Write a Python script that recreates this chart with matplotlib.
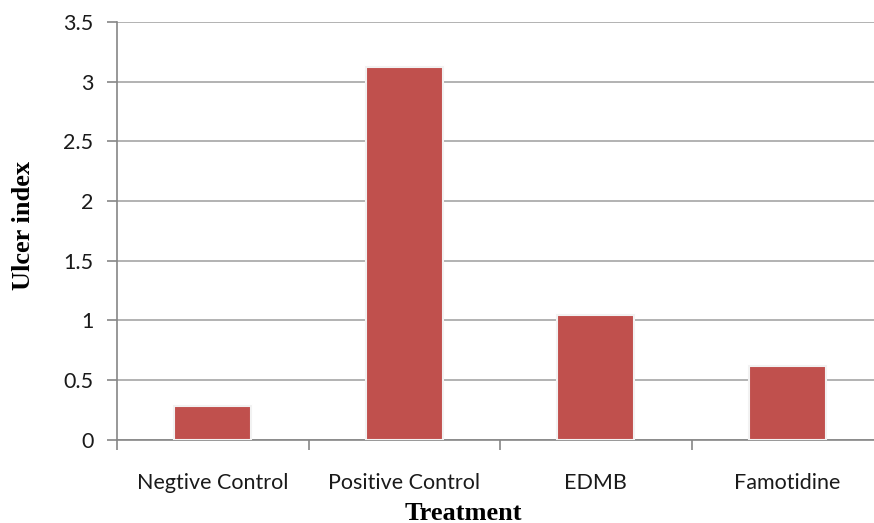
import matplotlib.pyplot as plt
import numpy as np

treatments = ["Negtive Control", "Positive Control", "EDMB", "Famotidine"]
ulcer_index = [0.28, 3.12, 1.04, 0.62]
y_ticks = [0, 0.5, 1, 1.5, 2, 2.5, 3, 3.5]
y_tick_labels = ["0", "0.5", "1", "1.5", "2", "2.5", "3", "3.5"]

fig = plt.figure(figsize=(8.74, 5.23), dpi=100)
ax = fig.add_axes([117 / 874, 1 - 439.5 / 523, 766 / 874, 417.5 / 523])

x = np.arange(len(treatments))
ax.bar(x, ulcer_index, width=0.4, color="#C0504D", edgecolor="#F2F2F2",
       linewidth=1.5, zorder=3)

ax.set_xlim(-0.5, len(treatments) - 0.5)
ax.set_ylim(0, 3.5)
ax.set_yticks(y_ticks)
ax.set_yticklabels(y_tick_labels, fontsize=15.5, family="Lato", color="#1a1a1a")
ax.yaxis.grid(True, color="#A6A6A6", linewidth=1.2, zorder=0)

# category boundaries get the tick marks, labels sit in the middle
ax.set_xticks(np.arange(len(treatments) + 1) - 0.5)
ax.set_xticklabels([])
ax.set_xticks(x, minor=True)
ax.set_xticklabels(treatments, minor=True, fontsize=15.5, family="Lato", color="#1a1a1a")
ax.tick_params(axis="x", which="major", length=7, color="#868686", width=1.2)
ax.tick_params(axis="x", which="minor", length=0, pad=24)
ax.tick_params(axis="y", length=7, color="#868686", width=1.2, pad=10)

for side in ["top", "right"]:
    ax.spines[side].set_visible(False)
for side in ["left", "bottom"]:
    ax.spines[side].set_color("#868686")
    ax.spines[side].set_linewidth(1.2)

fig.text(463 / 874, 1 - 513 / 523, "Treatment", ha="center", va="center",
         fontsize=19, fontweight="bold", family="Liberation Serif")
fig.text(24 / 874, 1 - 225 / 523, "Ulcer index", ha="center", va="center",
         rotation=90, fontsize=19, fontweight="bold", family="Liberation Serif")

fig.savefig("out.png", dpi=100)
